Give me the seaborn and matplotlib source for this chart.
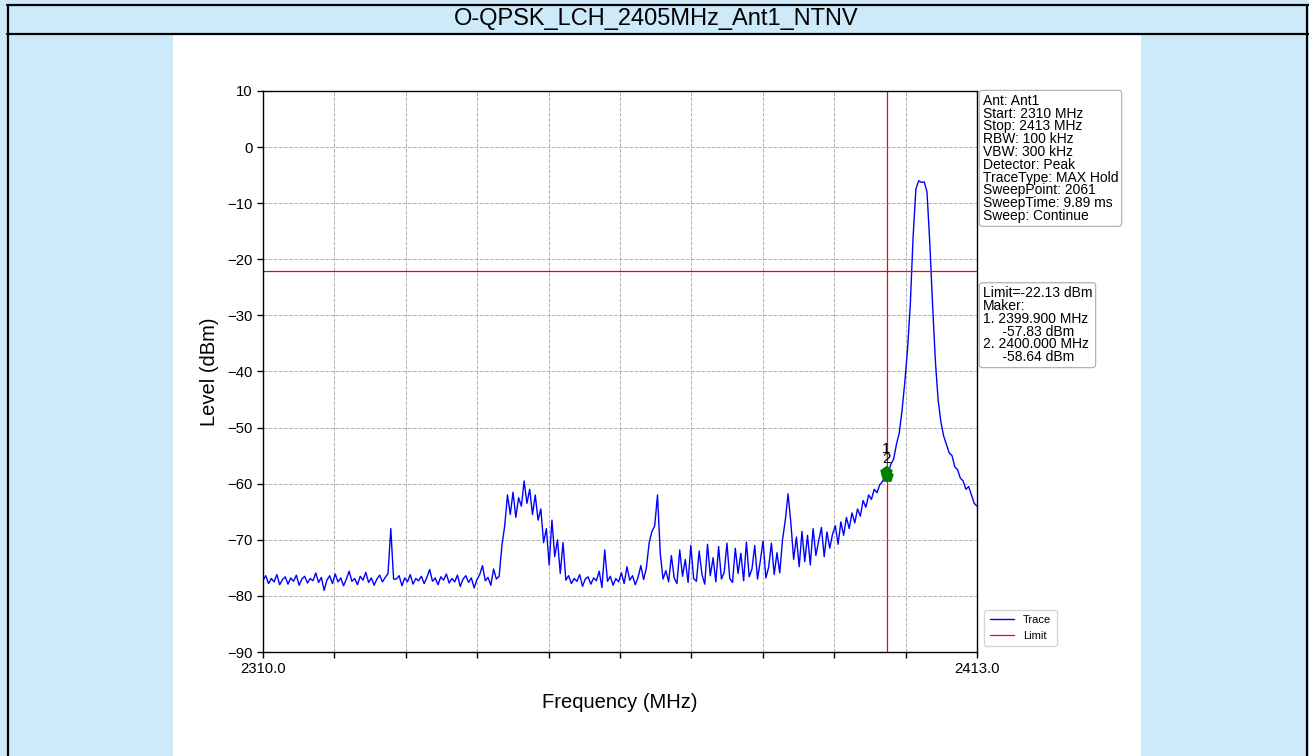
import numpy as np
import matplotlib
matplotlib.use("Agg")
import matplotlib.pyplot as plt
from matplotlib.patches import Rectangle
from matplotlib.lines import Line2D
import pandas as pd
import seaborn as sns

# ── Data ──────────────────────────────────────────────────────────────────────

TITLE = "O-QPSK_LCH_2405MHz_Ant1_NTNV"
START_MHZ = 2310.0
STOP_MHZ = 2413.0
LIMIT_DBM = -22.13
EDGE_MHZ = 2400.0

# trace level (dBm), one value per ~0.4 MHz across the sweep
levels = [
    # noise floor
    -77.2, -76.4, -77.8, -76.9, -77.5, -76.2, -78.0, -77.1, -76.6, -77.9,
    -76.8, -77.4, -76.3, -78.1, -77.0, -76.5, -77.7, -76.9, -77.3, -75.9,
    -77.6, -76.7, -79.0, -77.2, -76.4, -77.8, -76.1, -77.5, -76.8, -78.2,
    -77.0, -75.6, -77.4, -76.9, -78.0, -76.5, -77.2, -75.8, -77.6, -76.8,
    -78.1, -77.0, -76.3, -77.5, -76.7,
    # narrow spur
    -76.0, -68.0, -77.0,
    # floor
    -77.0, -76.4, -78.2, -76.8, -77.5, -76.2, -77.9, -76.9, -77.3, -76.5,
    -77.8, -76.7, -75.3, -77.4, -76.8, -78.0, -76.6, -77.2, -76.1, -77.7,
    -76.9, -77.5, -76.3, -78.3, -77.0, -76.4, -77.6, -76.8, -78.6, -77.1,
    -76.2, -74.6, -77.3, -76.7, -78.1, -75.2, -77.0,
    # wide bump
    -76.5, -71.0, -67.5, -62.0, -65.5, -61.5, -66.0, -62.5, -64.0, -59.5,
    -63.5, -61.0, -65.5, -62.0, -66.5, -64.5, -70.5, -68.0, -74.5, -66.5,
    -73.0, -70.0, -76.0, -70.5, -77.2,
    # floor
    -76.4, -77.8, -76.9, -77.4, -76.2, -78.3, -77.0, -76.6, -77.9, -76.8,
    -77.3, -75.6, -78.5, -71.8, -77.4, -76.5, -78.1, -76.9, -77.5, -75.9,
    -77.8, -74.8, -77.2, -76.4, -78.0, -76.7, -74.6, -77.1,
    # small bump
    -75.0, -70.5, -68.5, -67.5, -62.0, -72.5, -77.0,
    # ripple region
    -75.5, -77.5, -72.8, -76.8, -77.8, -71.8, -76.5, -73.5, -77.6, -71.0,
    -76.9, -77.4, -72.0, -76.2, -77.9, -70.8, -76.4, -73.2, -77.5, -71.2,
    -77.0, -75.8, -70.6, -76.9, -77.6, -71.5, -76.0, -72.4, -77.3, -70.4,
    -76.6, -75.2, -71.0, -77.0, -73.8, -70.2, -76.8, -74.9, -70.6, -76.2,
    -72.3, -75.9, -70.0, -66.5, -61.8, -67.0, -73.5, -69.5,
    # rising skirt
    -74.8, -68.5, -73.9, -69.2, -74.5, -68.0, -72.8, -70.2, -67.8, -73.0,
    -68.6, -71.5, -69.0, -67.5, -70.8, -66.8, -69.2, -66.0, -68.0, -65.2,
    -67.0, -64.5, -65.8, -63.0, -64.2, -62.0, -62.8, -61.0, -61.6, -60.2,
    -59.6, -58.6, -58.2,
    # carrier
    -56.5, -55.6, -53.0, -51.0, -47.0, -42.0, -36.0, -28.0, -16.0, -7.5,
    -6.0, -6.3, -6.2, -8.0, -17.0, -28.0, -38.0, -45.0, -49.0, -51.5,
    -53.0, -54.5, -55.0, -57.0, -57.5, -59.0, -59.5, -61.0, -60.5, -62.0,
    -63.5, -64.0,
]

marker_freqs = [2399.9, 2400.0]
marker_levels = [-57.83, -58.64]
marker_names = ["1", "2"]

info_lines = [
    "Ant: Ant1",
    "Start: 2310 MHz",
    "Stop: 2413 MHz",
    "RBW: 100 kHz",
    "VBW: 300 kHz",
    "Detector: Peak",
    "TraceType: MAX Hold",
    "SweepPoint: 2061",
    "SweepTime: 9.89 ms",
    "Sweep: Continue",
]
limit_lines = [
    "Limit=-22.13 dBm",
    "Maker:",
    "1. 2399.900 MHz",
    "     -57.83 dBm",
    "2. 2400.000 MHz",
    "     -58.64 dBm",
]

# sweep grid is evenly spaced between start and stop
trace = pd.DataFrame({
    "freq": np.linspace(START_MHZ, STOP_MHZ, len(levels)),
    "level": levels,
})

# ── Style ─────────────────────────────────────────────────────────────────────

sns.set_style("ticks")
plt.rcParams["font.family"] = ["Liberation Sans", "DejaVu Sans"]
plt.rcParams.update({
    "axes.edgecolor": "black",
    "text.color": "black",
    "axes.labelcolor": "black",
    "xtick.color": "black",
    "ytick.color": "black",
})

W, H = 1309, 756
fig = plt.figure(figsize=(W / 100, H / 100), dpi=100)
fig.patch.set_facecolor("#cdeafa")

# white page panel + frame lines
fig.add_artist(Rectangle((173 / W, 0), (1141 - 173) / W, (H - 35) / H,
                         transform=fig.transFigure, fc="white", ec="none", zorder=-5))
for xs, ys in [
    ([7.5 / W, 7.5 / W], [0, 1 - 4.5 / H]),
    ([7 / W, 1], [1 - 4.5 / H, 1 - 4.5 / H]),
    ([7 / W, 1], [1 - 33.5 / H, 1 - 33.5 / H]),
    ([1306.5 / W, 1306.5 / W], [0, 1 - 4.5 / H]),
]:
    fig.add_artist(Line2D(xs, ys, transform=fig.transFigure, color="black", lw=1.6))

fig.text(656 / W, 1 - 19.5 / H, TITLE, ha="center", va="center", fontsize=17)

ax = fig.add_axes([263 / W, 1 - 652 / H, (977 - 263) / W, (652 - 91) / H])

sns.lineplot(data=trace, x="freq", y="level", ax=ax, color="blue", lw=1.0,
             label="Trace", estimator=None, sort=False)
ax.axhline(LIMIT_DBM, color="red", lw=0.9, label="Limit")
ax.axvline(EDGE_MHZ, color="red", lw=0.9)

ax.scatter(marker_freqs, marker_levels, marker="p", s=70, color="green", zorder=5)
for f, lv, name, dy in zip(marker_freqs, marker_levels, marker_names, [11, 7]):
    ax.annotate(name, (f, lv), xytext=(0, dy), textcoords="offset points",
                ha="center", va="bottom", fontsize=11, color="black")

ax.set_xlim(START_MHZ, STOP_MHZ)
ax.set_ylim(-90, 10)
xticks = np.linspace(START_MHZ, STOP_MHZ, 11)
ax.set_xticks(xticks)
ax.set_xticklabels([f"{xticks[0]:.1f}"] + [""] * 9 + [f"{xticks[-1]:.1f}"])
ax.set_yticks(np.arange(-90, 11, 10))
ax.tick_params(labelsize=10.7, length=4, width=1, color="black", direction="out")
ax.grid(True, ls="--", color="#b0b0b0", lw=0.7)
for sp in ax.spines.values():
    sp.set_visible(True)
    sp.set_linewidth(1.0)

ax.set_xlabel("Frequency (MHz)", fontsize=14.5, labelpad=12)
ax.set_ylabel("Level (dBm)", fontsize=14.5, labelpad=6)

box = dict(boxstyle="round,pad=0.25", fc="white", ec="#aaaaaa", lw=0.8)
ax.text(1.008, 0.995, "\n".join(info_lines), transform=ax.transAxes,
        ha="left", va="top", fontsize=10, linespacing=0.89, bbox=box)
ax.text(1.008, 0.652, "\n".join(limit_lines), transform=ax.transAxes,
        ha="left", va="top", fontsize=10, linespacing=0.89, bbox=box)

leg = ax.legend(loc="lower left", bbox_to_anchor=(1.002, 0.0), fontsize=8,
                frameon=True, handlelength=2.2, borderpad=0.5)
leg.get_frame().set_edgecolor("#cccccc")

fig.savefig("out.png", dpi=100, facecolor=fig.get_facecolor())
